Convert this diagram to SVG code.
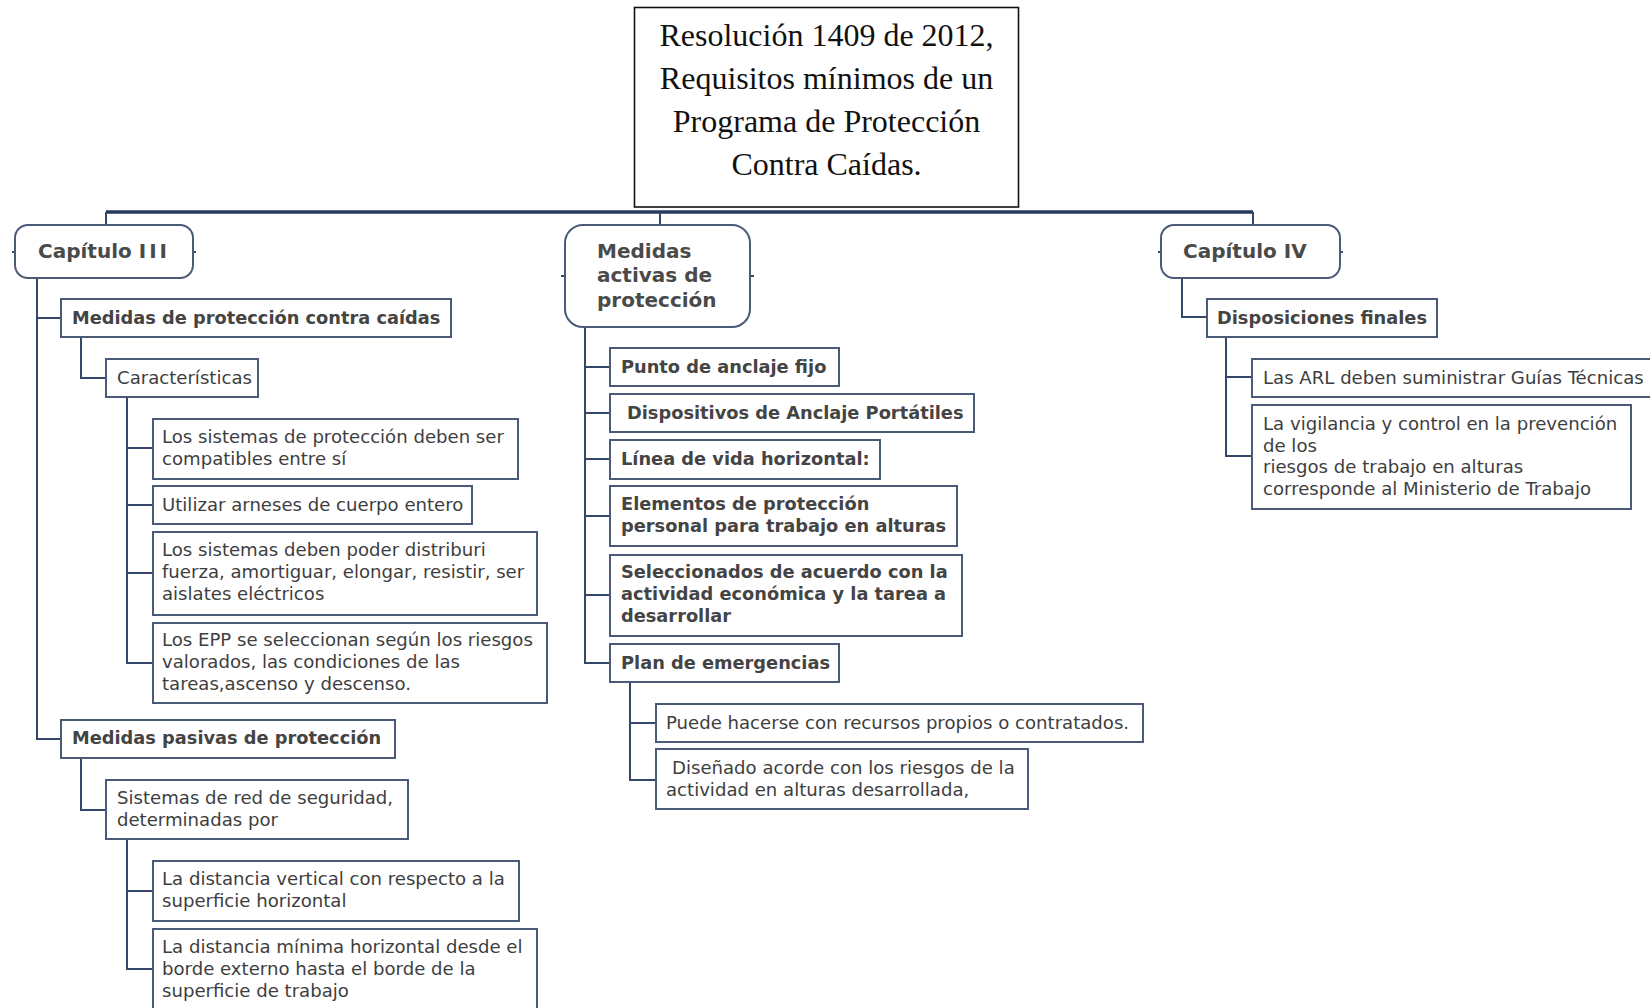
<svg xmlns="http://www.w3.org/2000/svg" width="1650" height="1008" viewBox="0 0 1650 1008">
<style>
.bg{fill:#ffffff}
.box{fill:#ffffff;stroke:#4b5a78;stroke-width:2}
.top{fill:#ffffff;stroke:#4b5a78;stroke-width:2}
.root{fill:#ffffff;stroke:#111111;stroke-width:1.6}
.rt{font-family:"Liberation Serif","Times New Roman",serif;font-size:32px;fill:#111111;text-anchor:middle}
.h1{font-family:"DejaVu Sans",Verdana,sans-serif;font-size:20px;font-weight:bold;fill:#4a4a4a}
.h2{font-family:"DejaVu Sans",Verdana,sans-serif;font-size:17.8px;font-weight:bold;fill:#444444}
.t{font-family:"DejaVu Sans",Verdana,sans-serif;font-size:18.1px;fill:#3e3e3e}
.c{fill:none;stroke:#34476a;stroke-width:2}
.bus{fill:none;stroke:#243a5e;stroke-width:3.5}
</style>
<rect class="bg" x="0" y="0" width="1650" height="1008"/>

<g id="connectors">
  <path class="bus" d="M106,212 H1253"/>
  <path class="c" d="M106,212 V226 M660,212 V226 M1253,212 V226"/>
  <path class="c" d="M12,252 H15 M193,252 H196 M561,276 H565 M750,276 H754 M1158,252 H1161 M1340,252 H1343"/>
  <path class="c" d="M37,278 V739 H61 M37,318 H61"/>
  <path class="c" d="M81,337 V378 H106"/>
  <path class="c" d="M127,397 V663 H153 M127,448 H153 M127,505 H153 M127,573 H153"/>
  <path class="c" d="M81,758 V810 H106"/>
  <path class="c" d="M127,839 V969 H153 M127,891 H153"/>
  <path class="c" d="M585,327 V663 H610 M585,367 H610 M585,413 H610 M585,459 H610 M585,516 H610 M585,595 H610"/>
  <path class="c" d="M630,682 V780 H656 M630,723 H656"/>
  <path class="c" d="M1182,278 V317 H1207"/>
  <path class="c" d="M1226,337 V456 H1252 M1226,377 H1252"/>
</g>

<g id="root">
  <rect class="root" x="634.5" y="7.5" width="384" height="199.5"/>
  <text class="rt" x="826.5" y="46">Resolución 1409 de 2012,</text>
  <text class="rt" x="826.5" y="89">Requisitos mínimos de un</text>
  <text class="rt" x="826.5" y="132">Programa de Protección</text>
  <text class="rt" x="826.5" y="175">Contra Caídas.</text>
</g>

<g id="capitulo-iii">
  <rect class="top" x="15" y="225" width="178" height="53" rx="13"/>
  <text class="h1" x="38" y="258">Capítulo <tspan letter-spacing="3">III</tspan></text>
</g>
<g id="medidas-proteccion">
  <rect class="box" x="61" y="299" width="390" height="38"/>
  <text class="h2" x="72" y="324">Medidas de protección contra caídas</text>
</g>
<g id="caracteristicas">
  <rect class="box" x="106" y="359" width="152" height="38"/>
  <text class="t" x="117" y="384">Características</text>
</g>
<g id="compatibles">
  <rect class="box" x="153" y="419" width="365" height="60"/>
  <text class="t" x="162" y="443">Los sistemas de protección deben ser</text>
  <text class="t" x="162" y="465">compatibles entre sí</text>
</g>
<g id="arneses">
  <rect class="box" x="153" y="486" width="319" height="38"/>
  <text class="t" x="162" y="511">Utilizar arneses de cuerpo entero</text>
</g>
<g id="distribuir">
  <rect class="box" x="153" y="532" width="384" height="83"/>
  <text class="t" x="162" y="556">Los sistemas deben poder distriburi</text>
  <text class="t" x="162" y="578">fuerza, amortiguar, elongar, resistir, ser</text>
  <text class="t" x="162" y="600">aislates eléctricos</text>
</g>
<g id="epp">
  <rect class="box" x="153" y="623" width="394" height="80"/>
  <text class="t" x="162" y="646">Los EPP se seleccionan según los riesgos</text>
  <text class="t" x="162" y="668">valorados, las condiciones de las</text>
  <text class="t" x="162" y="690">tareas,ascenso y descenso.</text>
</g>
<g id="medidas-pasivas">
  <rect class="box" x="61" y="720" width="334" height="38"/>
  <text class="h2" x="72" y="744">Medidas pasivas de protección</text>
</g>
<g id="red-seguridad">
  <rect class="box" x="106" y="780" width="302" height="59"/>
  <text class="t" x="117" y="804">Sistemas de red de seguridad,</text>
  <text class="t" x="117" y="826">determinadas por</text>
</g>
<g id="distancia-vertical">
  <rect class="box" x="153" y="861" width="366" height="60"/>
  <text class="t" x="162" y="885">La distancia vertical con respecto a la</text>
  <text class="t" x="162" y="907">superficie horizontal</text>
</g>
<g id="distancia-minima">
  <rect class="box" x="153" y="929" width="384" height="100"/>
  <text class="t" x="162" y="953">La distancia mínima horizontal desde el</text>
  <text class="t" x="162" y="975">borde externo hasta el borde de la</text>
  <text class="t" x="162" y="997">superficie de trabajo</text>
</g>

<g id="medidas-activas">
  <rect class="top" x="565" y="225" width="185" height="102" rx="18"/>
  <text class="h1" x="597" y="258">Medidas</text>
  <text class="h1" x="597" y="282">activas de</text>
  <text class="h1" x="597" y="307">protección</text>
</g>
<g id="punto-anclaje">
  <rect class="box" x="610" y="348" width="229" height="38"/>
  <text class="h2" x="621" y="373">Punto de anclaje fijo</text>
</g>
<g id="dispositivos">
  <rect class="box" x="610" y="394" width="364" height="38"/>
  <text class="h2" x="627" y="419">Dispositivos de Anclaje Portátiles</text>
</g>
<g id="linea-vida">
  <rect class="box" x="610" y="440" width="270" height="39"/>
  <text class="h2" x="621" y="465">Línea de vida horizontal:</text>
</g>
<g id="elementos">
  <rect class="box" x="610" y="486" width="347" height="60"/>
  <text class="h2" x="621" y="510">Elementos de protección</text>
  <text class="h2" x="621" y="532">personal para trabajo en alturas</text>
</g>
<g id="seleccionados">
  <rect class="box" x="610" y="555" width="352" height="81"/>
  <text class="h2" x="621" y="578">Seleccionados de acuerdo con la</text>
  <text class="h2" x="621" y="600">actividad económica y la tarea a</text>
  <text class="h2" x="621" y="622">desarrollar</text>
</g>
<g id="plan-emergencias">
  <rect class="box" x="610" y="644" width="229" height="38"/>
  <text class="h2" x="621" y="669">Plan de emergencias</text>
</g>
<g id="recursos">
  <rect class="box" x="656" y="704" width="487" height="38"/>
  <text class="t" x="666" y="729">Puede hacerse con recursos propios o contratados.</text>
</g>
<g id="disenado">
  <rect class="box" x="656" y="749" width="372" height="60"/>
  <text class="t" x="672" y="774">Diseñado acorde con los riesgos de la</text>
  <text class="t" x="666" y="796">actividad en alturas desarrollada,</text>
</g>

<g id="capitulo-iv">
  <rect class="top" x="1161" y="225" width="179" height="53" rx="13"/>
  <text class="h1" x="1183" y="258">Capítulo IV</text>
</g>
<g id="disposiciones">
  <rect class="box" x="1207" y="299" width="230" height="38"/>
  <text class="h2" x="1217" y="324">Disposiciones finales</text>
</g>
<g id="arl">
  <rect class="box" x="1252" y="359" width="420" height="38"/>
  <text class="t" x="1263" y="384">Las ARL deben suministrar Guías Técnicas</text>
</g>
<g id="vigilancia">
  <rect class="box" x="1252" y="405" width="379" height="104"/>
  <text class="t" x="1263" y="430">La vigilancia y control en la prevención</text>
  <text class="t" x="1263" y="452">de los</text>
  <text class="t" x="1263" y="473">riesgos de trabajo en alturas</text>
  <text class="t" x="1263" y="495">corresponde al Ministerio de Trabajo</text>
</g>
</svg>
